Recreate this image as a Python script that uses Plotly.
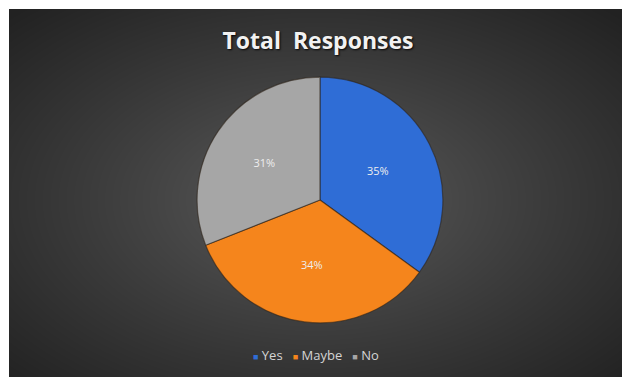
import base64
import struct
import zlib

import numpy as np
import plotly.graph_objects as go

# Survey answers and their share of the total
labels = ["Yes", "Maybe", "No"]
shares = [35, 34, 31]
colors = ["#2f6dd6", "#f5851c", "#a6a6a6"]

W, H = 622, 377
PAD_L, PAD_T = 9, 9
PW, PH = W - PAD_L, H - PAD_T


def radial_png(w, h, inner, outer, cx=0.5, cy=0.5):
    """Encode a grey radial gradient as a PNG data URI."""
    yy, xx = np.mgrid[0:h, 0:w].astype(float)
    dx = (xx / (w - 1) - cx) / 0.5
    dy = (yy / (h - 1) - cy) / 0.5
    d = np.clip(np.sqrt(dx ** 2 + dy ** 2) / np.sqrt(2), 0, 1)
    v = inner + (outer - inner) * d ** 0.85
    img = np.clip(np.round(v), 0, 255).astype(np.uint8)
    rgb = np.repeat(img[:, :, None], 3, axis=2)
    raw = b"".join(b"\x00" + rgb[r].tobytes() for r in range(h))

    def chunk(tag, data):
        c = struct.pack(">I", len(data)) + tag + data
        return c + struct.pack(">I", zlib.crc32(tag + data) & 0xFFFFFFFF)

    png = b"\x89PNG\r\n\x1a\n"
    png += chunk(b"IHDR", struct.pack(">IIBBBBB", w, h, 8, 2, 0, 0, 0))
    png += chunk(b"IDAT", zlib.compress(raw, 9))
    png += chunk(b"IEND", b"")
    return "data:image/png;base64," + base64.b64encode(png).decode()


bg = radial_png(PW, PH, inner=94, outer=34, cx=0.5, cy=0.52)

fig = go.Figure(
    go.Pie(
        labels=labels,
        values=shares,
        sort=False,
        direction="clockwise",
        rotation=0,
        marker=dict(colors=colors, line=dict(color="rgba(45,35,25,0.6)", width=1.2)),
        texttemplate="%{percent:.0%}",
        textposition="inside",
        insidetextorientation="horizontal",
        textfont=dict(family="Open Sans", size=11, color="#eeeeee"),
        domain=dict(x=[0.2, 0.8146], y=[0.147, 0.815]),
        hoverinfo="label+percent",
    )
)

# Compact legend row: coloured square followed by the label
legend_row = "   ".join(
    f'<span style="color:{c};font-size:9px">■</span> {lab}'
    for lab, c in zip(labels, colors)
)

fig.update_layout(
    width=W,
    height=H,
    margin=dict(l=PAD_L, t=PAD_T, r=0, b=0),
    paper_bgcolor="white",
    showlegend=False,
    images=[
        dict(
            source=bg,
            xref="paper",
            yref="paper",
            x=0,
            y=1,
            sizex=1,
            sizey=1,
            sizing="stretch",
            xanchor="left",
            yanchor="top",
            layer="below",
        )
    ],
    title=dict(
        text="Total  Responses",
        x=318 / W,
        xanchor="center",
        y=1 - 41 / H,
        yanchor="middle",
        font=dict(
            family="Open Sans",
            size=23,
            color="#f2f2f2",
            weight="bold",
            shadow="1px 1px 2px rgba(0,0,0,0.9)",
        ),
    ),
    annotations=[
        dict(
            text=legend_row,
            xref="paper",
            yref="paper",
            x=(316 - PAD_L) / PW,
            y=1 - (355 - PAD_T) / PH,
            xanchor="center",
            yanchor="middle",
            showarrow=False,
            font=dict(family="Open Sans", size=13, color="#d4d4d4"),
        )
    ],
)

fig.write_html("out.html")
